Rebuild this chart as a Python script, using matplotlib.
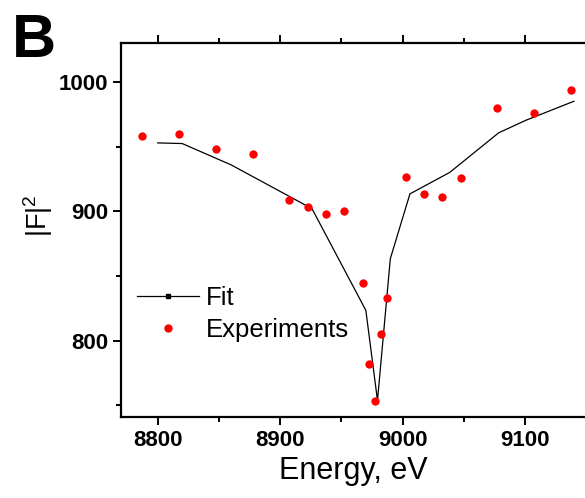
import matplotlib
matplotlib.use("Agg")
import matplotlib.pyplot as plt
from matplotlib.ticker import MultipleLocator

plt.rcParams["font.family"] = ["Liberation Sans", "DejaVu Sans"]
plt.rcParams["mathtext.fontset"] = "custom"
plt.rcParams["mathtext.rm"] = "Liberation Sans"
plt.rcParams["mathtext.it"] = "Liberation Sans"

# ---- data ------------------------------------------------------------
exp_energy = [8787.5, 8817.5, 8847.5, 8877.5, 8907.5, 8922.5, 8937.5, 8952.5,
              8967.5, 8972.5, 8977.5, 8982.5, 8987.5, 9002.5, 9017.5, 9032.5,
              9047.5, 9077.5, 9107.5, 9137.5]
exp_f2 = [957.8, 959.8, 948.2, 944.6, 908.5, 903.1, 898.0, 900.0,
          844.9, 781.7, 753.3, 804.9, 833.3, 926.3, 913.4, 911.1,
          925.5, 979.7, 976.1, 993.8]

fit_energy = [8800, 8820, 8860, 8926, 8970, 8979.5, 8990, 9006,
              9038.5, 9078.5, 9101, 9140]
fit_f2 = [952.8, 952.3, 935.8, 902.0, 823.4, 753.8, 863.4, 913.4,
          930.0, 960.6, 970.4, 985.0]

# ---- chart -------------------------------------------------------------
fig = plt.figure(figsize=(5.85, 4.98), dpi=100)
ax = fig.add_axes([121 / 585, 81 / 498, 1 - 121 / 585, (417 - 43) / 498])

fit_line, = ax.plot(fit_energy, fit_f2, color="black", lw=0.9)
exp_pts, = ax.plot(exp_energy, exp_f2, "o", color="#ff0000", ms=6, mec="none")

ax.set_xlim(8770, 9149)
ax.set_ylim(741, 1030)
ax.xaxis.set_major_locator(MultipleLocator(100))
ax.xaxis.set_minor_locator(MultipleLocator(50))
ax.yaxis.set_major_locator(MultipleLocator(100))
ax.yaxis.set_minor_locator(MultipleLocator(50))

for side in ["left", "bottom", "top"]:
    ax.spines[side].set_linewidth(1.6)
ax.spines["right"].set_visible(False)
ax.tick_params(which="both", direction="out", top=True, right=False,
               width=1.4, labelsize=16)
ax.tick_params(which="major", length=6, pad=3)
ax.tick_params(which="minor", length=3.5)
for lab in ax.get_xticklabels() + ax.get_yticklabels():
    lab.set_fontweight("bold")

ax.set_xlabel("Energy, eV", fontsize=22, labelpad=4)
fig.text(38 / 585, 1 - 216 / 498, "|F|$^{2}$", rotation=90, fontsize=19.5,
         ha="center", va="center")
fig.text(12 / 585, 1 - 57 / 498, "B", fontsize=44, fontweight="bold",
         ha="left", va="baseline")

# legend handle for fit has a tiny square in the middle
leg_fit, = ax.plot([], [], color="black", lw=0.9, marker="s", ms=2.5)
ax.legend([leg_fit, exp_pts], ["Fit", "Experiments"], loc="center left",
          bbox_to_anchor=(137 / 585, 1 - 314 / 498), bbox_transform=fig.transFigure,
          frameon=False, fontsize=18.5, handlelength=2.4, handletextpad=0.3,
          borderpad=0, borderaxespad=0, labelspacing=0.3, numpoints=1)

fig.savefig("out.png", dpi=100)
